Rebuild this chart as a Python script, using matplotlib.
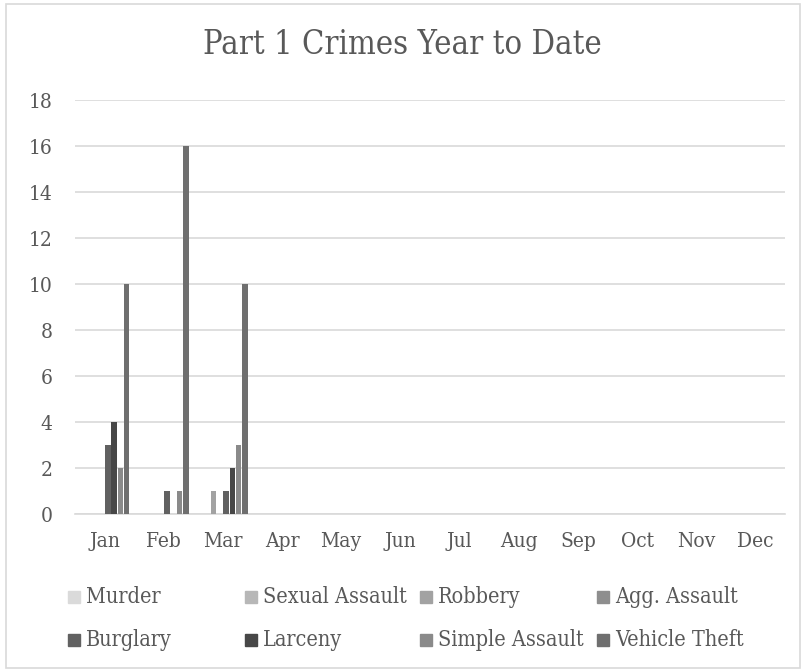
import numpy as np
import matplotlib
matplotlib.use("Agg")
import matplotlib.pyplot as plt
from matplotlib.patches import Rectangle
from matplotlib import font_manager

months = ["Jan", "Feb", "Mar", "Apr", "May", "Jun",
          "Jul", "Aug", "Sep", "Oct", "Nov", "Dec"]
series_names = ["Murder", "Sexual Assault", "Robbery", "Agg. Assault",
                "Burglary", "Larceny", "Simple Assault", "Vehicle Theft"]

murder = [0, 0, 0, 0, 0, 0, 0, 0, 0, 0, 0, 0]
sexual_assault = [0, 0, 0, 0, 0, 0, 0, 0, 0, 0, 0, 0]
robbery = [0, 0, 1, 0, 0, 0, 0, 0, 0, 0, 0, 0]
agg_assault = [0, 0, 0, 0, 0, 0, 0, 0, 0, 0, 0, 0]
burglary = [3, 1, 1, 0, 0, 0, 0, 0, 0, 0, 0, 0]
larceny = [4, 0, 2, 0, 0, 0, 0, 0, 0, 0, 0, 0]
simple_assault = [2, 1, 3, 0, 0, 0, 0, 0, 0, 0, 0, 0]
vehicle_theft = [10, 16, 10, 0, 0, 0, 0, 0, 0, 0, 0, 0]

all_series = [murder, sexual_assault, robbery, agg_assault,
              burglary, larceny, simple_assault, vehicle_theft]
colors = ["#dadada", "#b7b7b7", "#a2a2a2", "#8e8e8e",
          "#616161", "#474747", "#8a8a8a", "#6f6f6f"]

text_color = "#595959"

# narrow serif close to the Office font
fp = font_manager.FontProperties(family="DejaVu Serif", stretch="condensed")


def tfont(size):
    p = fp.copy()
    p.set_size(size)
    return p


fig = plt.figure(figsize=(8.04, 6.72), dpi=100)
ax = fig.add_axes([75 / 804, 1 - 514 / 672, 710 / 804, 414 / 672])

x = np.arange(len(months))
step = 0.1065
for i, vals in enumerate(all_series):
    ax.bar(x + (i - 3.5) * step, vals, width=step * 0.88,
           color=colors[i], zorder=3)

ax.set_xlim(-0.5, len(months) - 0.5)
ax.set_ylim(0, 18)
ax.set_yticks(range(0, 19, 2))
ax.set_xticks(x)
ax.set_xticklabels(months)
ax.yaxis.grid(True, color="#d9d9d9", linewidth=1.2, zorder=0)
ax.tick_params(length=0, colors=text_color)
ax.tick_params(axis="y", pad=16)
ax.tick_params(axis="x", pad=13)
for lab in ax.get_xticklabels() + ax.get_yticklabels():
    lab.set_fontproperties(tfont(15))
for side in ["top", "right", "left"]:
    ax.spines[side].set_visible(False)
ax.spines["bottom"].set_color("#d9d9d9")
ax.spines["bottom"].set_linewidth(1.2)

fig.text(0.5, 1 - 45 / 672, "Part 1 Crimes Year to Date", ha="center",
         va="center", color=text_color, fontproperties=tfont(23.5))

# legend, laid out like the Excel one (4 columns, 2 rows)
col_x = [68, 245, 420, 597]
row_y = [597, 640]
for i, name in enumerate(series_names):
    cx = col_x[i % 4]
    cy = row_y[i // 4]
    fig.patches.append(Rectangle((cx / 804, 1 - (cy + 6) / 672), 12 / 804, 12 / 672,
                                 transform=fig.transFigure, color=colors[i]))
    fig.text((cx + 18) / 804, 1 - cy / 672, name, ha="left", va="center",
             color=text_color, fontproperties=tfont(15.5))

# chart border
fig.patches.append(Rectangle((6 / 804, 4 / 672), 794 / 804, 664 / 672,
                             transform=fig.transFigure, fill=False,
                             edgecolor="#d9d9d9", linewidth=1.2))

fig.savefig("out.png", dpi=100)
